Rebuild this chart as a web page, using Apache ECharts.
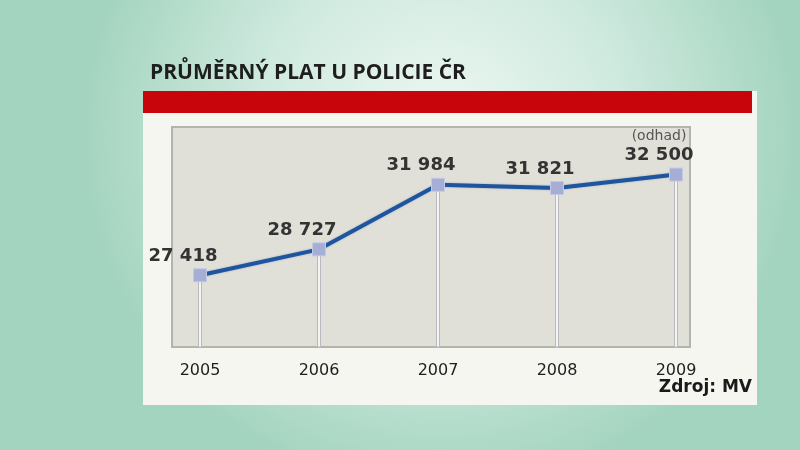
<!DOCTYPE html>
<html>
<head>
<meta charset="utf-8">
<script src="https://cdn.jsdelivr.net/npm/echarts@6/dist/echarts.min.js"></script>
<style>
  html, body { margin: 0; padding: 0; }
  #chart { width: 800px; height: 450px; }
</style>
</head>
<body>
<div id="chart"></div>
<script>
const years = ["2005", "2006", "2007", "2008", "2009"];
const salaries = [27418, 28727, 31984, 31821, 32500];
const estimated = [false, false, false, false, true];

const title = "PRŮMĚRNÝ PLAT U POLICIE ČR";
const source = "Zdroj: MV";

function fmt(n) {
  return String(n).replace(/\B(?=(\d{3})+(?!\d))/g, " ");
}

const chart = echarts.init(document.getElementById("chart"));

chart.setOption({
  animation: false,
  backgroundColor: {
    type: "radial", x: 0.55, y: 0.3, r: 0.8,
    colorStops: [
      { offset: 0, color: "#eef8f3" },
      { offset: 0.5, color: "#d0eadf" },
      { offset: 1, color: "#a3d4bf" },
    ],
  },
  graphic: [
    // white card + red band + grey panel (background decoration)
    { type: "rect", z: -10, shape: { x: 143, y: 91, width: 614, height: 314 }, style: { fill: "#f6f6f1" } },
    { type: "rect", z: -9, shape: { x: 143, y: 91, width: 609, height: 22 }, style: { fill: "#c8050a" } },
    { type: "rect", z: -9, shape: { x: 172, y: 127, width: 518, height: 220 },
      style: { fill: "#e0e0d9", stroke: "#b4b4ac", lineWidth: 2 } },
    { type: "text", left: 150, top: 63, style: {
      text: title, fill: "#1e1e1e", font: "bold 21px 'Open Sans', 'DejaVu Sans', sans-serif" } },
    { type: "text", right: 48, top: 379, style: {
      text: source, fill: "#1a1a1a", font: "bold 17px 'DejaVu Sans', sans-serif" } },
  ],
  grid: { left: 200, right: 124, top: 127, bottom: 103 },
  xAxis: {
    type: "category",
    data: years,
    boundaryGap: false,
    axisLine: { show: false },
    axisTick: { show: false },
    splitLine: { show: false },
    axisLabel: { color: "#1e1e1e", fontSize: 16, margin: 16, fontFamily: "'DejaVu Sans', sans-serif" },
  },
  yAxis: {
    type: "value",
    min: 23800,
    max: 34900,
    show: false,
    splitLine: { show: false },
  },
  series: [
    {
      // drop lines from each point to the bottom of the panel
      type: "bar",
      data: salaries,
      barWidth: 4,
      silent: true,
      z: 1,
      itemStyle: { color: "#f4f4f0", borderColor: "#b9b9c4", borderWidth: 1 },
    },
    {
      type: "line",
      data: salaries,
      z: 3,
      symbol: "rect",
      symbolSize: 13,
      lineStyle: { color: "#1d559f", width: 4, shadowColor: "rgba(40,60,120,0.35)", shadowBlur: 2 },
      itemStyle: { color: "#a7aed6", borderColor: "#c4c9e6", borderWidth: 1 },
      label: {
        show: true,
        position: "top",
        offset: [-17, 3],
        formatter: (p) => (estimated[p.dataIndex] ? "{e|(odhad)}\n" : "") + "{v|" + fmt(p.value) + "}",
        rich: {
          v: { fontSize: 18, fontWeight: "bold", color: "#333", fontFamily: "'DejaVu Sans', sans-serif", lineHeight: 20 },
          e: { fontSize: 14, color: "#555", fontFamily: "'DejaVu Sans', sans-serif", lineHeight: 19 },
        },
      },
    },
  ],
});
</script>
</body>
</html>
